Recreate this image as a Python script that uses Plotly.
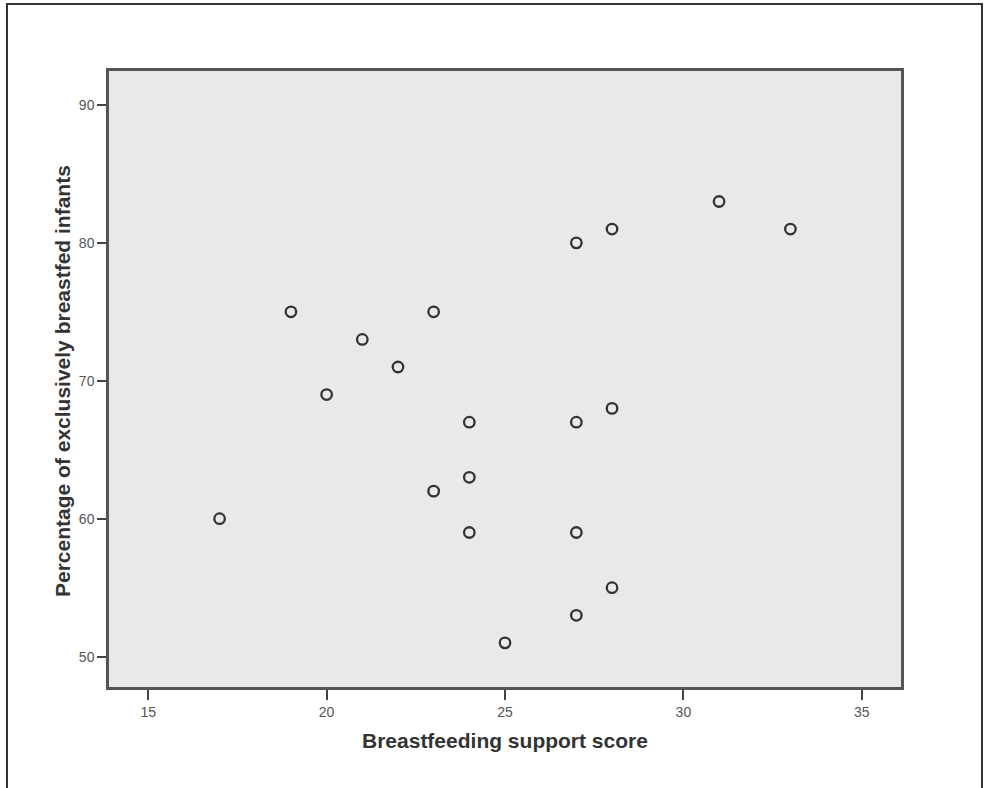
import plotly.graph_objects as go

support_score = [17, 19, 20, 21, 22, 23, 23, 24, 24, 24, 25, 27, 27, 27, 27, 28, 28, 28, 31, 33]
pct_exclusive = [60, 75, 69, 73, 71, 75, 62, 67, 63, 59, 51, 80, 67, 59, 53, 81, 68, 55, 83, 81]
x_ticks = [15, 20, 25, 30, 35]
y_ticks = [50, 60, 70, 80, 90]

L, R, T, B = 109, 83, 71, 101
W, H = 984, 788
pw, ph = W - L - R, H - T - B

def px(x):
    return (x - L) / pw

def py(y):
    return (H - B - y) / ph

fig = go.Figure()
fig.add_trace(go.Scatter(
    x=support_score, y=pct_exclusive, mode="markers",
    marker=dict(symbol="circle-open", size=10.5, color="#333333", line=dict(width=2.3, color="#333333")),
    hoverinfo="x+y", showlegend=False,
))

axis_common = dict(
    showline=True, linecolor="#555555", linewidth=2.5, mirror=True,
    showgrid=False, zeroline=False, ticks="outside", tickcolor="#444444",
    tickwidth=2, tickfont=dict(family="Liberation Sans, Arial", size=14, color="#555555"),
)
fig.update_xaxes(range=[13.9, 36.1], tickvals=x_ticks, ticklen=10, **axis_common)
fig.update_yaxes(range=[47.8, 92.46], tickvals=y_ticks, ticklen=9, **axis_common)

fig.add_annotation(text="<b>Breastfeeding support score</b>", xref="paper", yref="paper",
                   x=0.5, y=py(741), xanchor="center", yanchor="middle", showarrow=False,
                   font=dict(family="Liberation Sans, Arial", size=21, color="#333333"))
fig.add_annotation(text="<b>Percentage of exclusively breastfed infants</b>", xref="paper", yref="paper",
                   x=px(62), y=py(381), xanchor="center", yanchor="middle", showarrow=False, textangle=-90,
                   font=dict(family="Liberation Sans, Arial", size=21, color="#333333"))

fig.add_shape(type="rect", xref="paper", yref="paper",
              x0=px(7), x1=px(982), y0=py(800), y1=py(4),
              line=dict(color="#333333", width=2), layer="below")

fig.update_layout(
    width=W, height=H, margin=dict(l=L, r=R, t=T, b=B),
    plot_bgcolor="#e8e9eb", paper_bgcolor="white",
)
fig.write_html("out.html", config={"displayModeBar": False},
               post_script="document.body.style.margin='0';document.body.style.overflow='hidden';")
